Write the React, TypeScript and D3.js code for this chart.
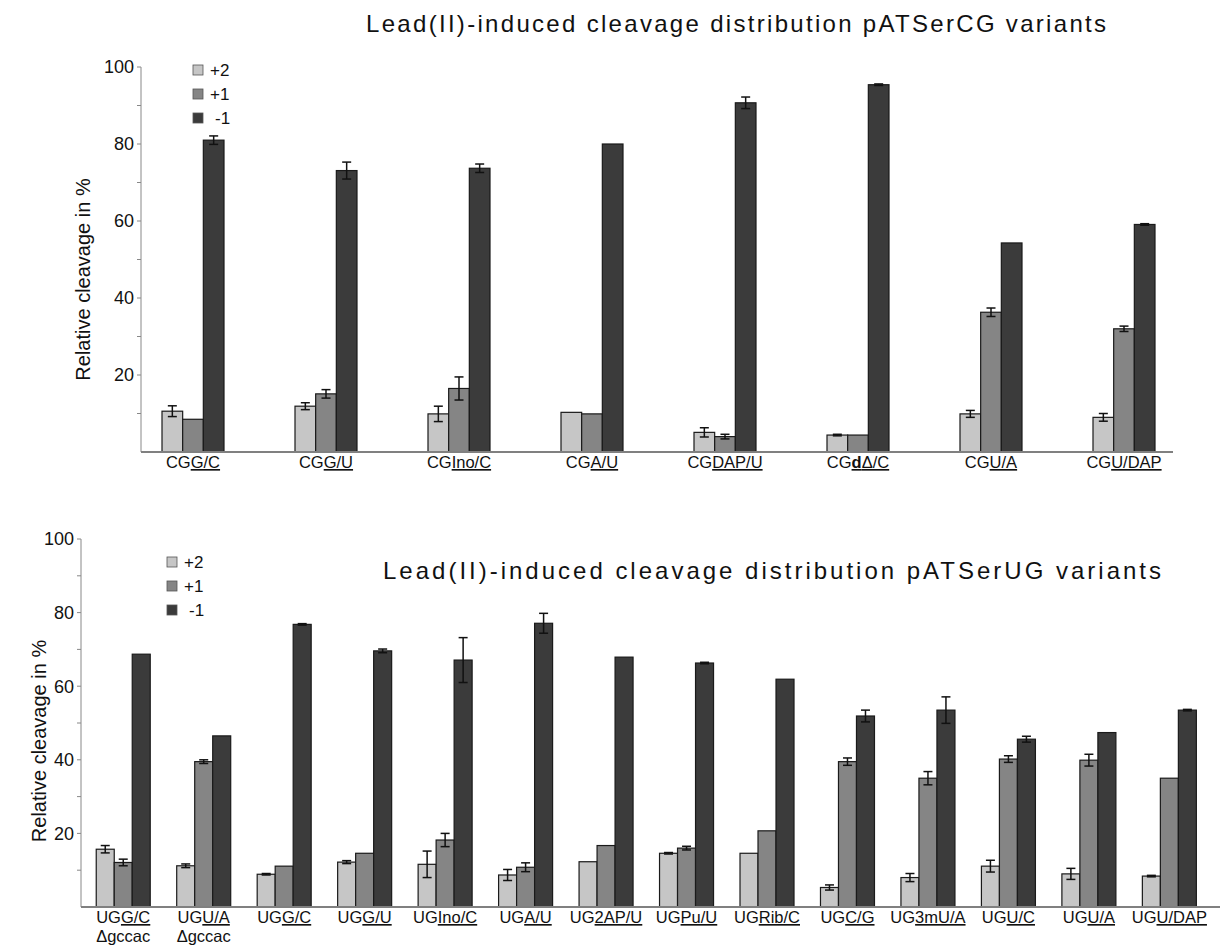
import React from 'react';
import * as d3 from 'd3';

// pATSerCG variants (top panel)
const cgCategories = ['CGG/C', 'CGG/U', 'CGIno/C', 'CGA/U', 'CGDAP/U', 'CGdΔ/C', 'CGU/A', 'CGU/DAP'];
const cgPlus2 = [10.6, 11.9, 9.9, 10.3, 5.1, 4.4, 9.9, 9.0];
const cgPlus2Err = [1.4, 0.9, 2.0, 0, 1.2, 0.2, 0.9, 1.0];
const cgPlus1 = [8.5, 15.1, 16.5, 9.9, 4.0, 4.4, 36.3, 32.0];
const cgPlus1Err = [0, 1.1, 3.0, 0, 0.6, 0, 1.1, 0.7];
const cgMinus1 = [81.0, 73.1, 73.7, 80.0, 90.7, 95.4, 54.3, 59.1];
const cgMinus1Err = [1.1, 2.2, 1.1, 0, 1.5, 0.2, 0, 0.2];

// pATSerUG variants (bottom panel)
const ugCategories = ['UGG/C Δgccac', 'UGU/A Δgccac', 'UGG/C', 'UGG/U', 'UGIno/C', 'UGA/U', 'UG2AP/U',
    'UGPu/U', 'UGRib/C', 'UGC/G', 'UG3mU/A', 'UGU/C', 'UGU/A', 'UGU/DAP'];
const ugPlus2 = [15.7, 11.2, 8.9, 12.2, 11.6, 8.7, 12.3, 14.6, 14.6, 5.3, 8.0, 11.1, 9.0, 8.4];
const ugPlus2Err = [1.0, 0.5, 0.2, 0.4, 3.6, 1.5, 0, 0.2, 0, 0.7, 1.1, 1.6, 1.5, 0.2];
const ugPlus1 = [12.1, 39.5, 11.1, 14.6, 18.2, 10.8, 16.7, 16.0, 20.7, 39.5, 35.0, 40.2, 39.9, 35.0];
const ugPlus1Err = [0.9, 0.5, 0, 0, 1.8, 1.2, 0, 0.5, 0, 1.0, 1.8, 0.9, 1.6, 0];
const ugMinus1 = [68.7, 46.5, 76.8, 69.6, 67.1, 77.1, 67.9, 66.3, 61.9, 51.9, 53.5, 45.6, 47.4, 53.5];
const ugMinus1Err = [0, 0, 0.2, 0.5, 6.1, 2.7, 0, 0.2, 0, 1.6, 3.6, 0.8, 0, 0.2];

const seriesNames = ['+2', '+1', '-1'];
const seriesColors = ['#c6c6c6', '#858585', '#3b3b3b'];
const yTickLabels = [20, 40, 60, 80, 100];

const font = '"Liberation Sans", Arial, Helvetica, sans-serif';

function CategoryLabel({ cat, x, y }) {
    const parts = cat.split(' ');
    const main = parts[0];
    const prefix = main.slice(0, 2);
    const rest = main.slice(2);
    const boldD = rest.startsWith('dΔ');
    return (
        <text x={x} y={y} textAnchor="middle" fontSize={16.5} fill="#111" fontFamily={font}>
            <tspan>{prefix}</tspan>
            {boldD ? (
                <>
                    <tspan fontWeight="bold" textDecoration="underline">d</tspan>
                    <tspan textDecoration="underline">{rest.slice(1)}</tspan>
                </>
            ) : (
                <tspan textDecoration="underline">{rest}</tspan>
            )}
            {parts[1] && <tspan x={x} dy={19}>{parts[1]}</tspan>}
        </text>
    );
}

function Panel({ title, titleX, titleY, titleWidth, categories, values, errors, axisX, axisEnd, y0, y100,
    bandStart, bandEnd, groupWidth, legendX, legendY, ylabelX, ylabelShift }) {

    const y = d3.scaleLinear().domain([0, 100]).range([y0, y100]);
    const x = d3.scaleBand().domain(categories).range([bandStart, bandEnd]);
    const inner = d3.scaleBand().domain(seriesNames).range([0, groupWidth]);
    const offset = (x.bandwidth() - groupWidth) / 2;
    const minorTicks = d3.range(10, 101, 10);

    return (
        <g>
            <text x={titleX} y={titleY} fontSize={24} fontFamily={font} fill="#111"
                textLength={titleWidth} lengthAdjust="spacing">{title}</text>

            {/* y axis */}
            <line x1={axisX} x2={axisX} y1={y(100)} y2={y(0)} stroke="#888" strokeWidth={1} />
            {minorTicks.map(t => (
                <line key={t} x1={axisX - 4} x2={axisX} y1={y(t)} y2={y(t)} stroke="#888" strokeWidth={1} />
            ))}
            {yTickLabels.map(t => (
                <text key={t} x={axisX - 7} y={y(t)} dy="0.35em" textAnchor="end" fontSize={18}
                    fontFamily={font} fill="#111">{t}</text>
            ))}
            <text transform={`translate(${ylabelX},${(y(0) + y(100)) / 2 + ylabelShift}) rotate(-90)`}
                textAnchor="middle" fontSize={20} fontFamily={font} fill="#111">Relative cleavage in %</text>

            {/* bars */}
            {categories.map((c, i) => (
                <g key={c} transform={`translate(${x(c) + offset},0)`}>
                    {seriesNames.map((s, k) => (
                        <rect key={s} x={inner(s)} y={y(values[k][i])} width={inner.bandwidth()}
                            height={y(0) - y(values[k][i])} fill={seriesColors[k]}
                            stroke="#1a1a1a" strokeWidth={1.2} />
                    ))}
                    {seriesNames.map((s, k) => {
                        const e = errors[k][i];
                        if (!e) return null;
                        const cx = inner(s) + inner.bandwidth() / 2;
                        const v = values[k][i];
                        return (
                            <g key={s} stroke="#111" strokeWidth={1.5}>
                                <line x1={cx} x2={cx} y1={y(v + e)} y2={y(v - e)} />
                                <line x1={cx - 4.5} x2={cx + 4.5} y1={y(v + e)} y2={y(v + e)} />
                                <line x1={cx - 4.5} x2={cx + 4.5} y1={y(v - e)} y2={y(v - e)} />
                            </g>
                        );
                    })}
                </g>
            ))}

            {/* x axis */}
            <line x1={axisX} x2={axisEnd} y1={y(0)} y2={y(0)} stroke="#808080" strokeWidth={2} />
            {categories.map(c => (
                <CategoryLabel key={c} cat={c} x={x(c) + x.bandwidth() / 2} y={y(0) + 16} />
            ))}

            {/* legend */}
            {seriesNames.map((s, k) => (
                <g key={s} transform={`translate(${legendX},${legendY + k * 24})`}>
                    <rect x={0} y={-5} width={10} height={10} fill={seriesColors[k]} stroke="#555" strokeWidth={0.8} />
                    <text x={s === '-1' ? 22 : 17} y={0} dy="0.35em" fontSize={17} fontFamily={font} fill="#111">{s}</text>
                </g>
            ))}
        </g>
    );
}

export default function App() {
    return (
        <svg width={1224} height={945} style={{ position: 'absolute', left: 0, top: 0, background: '#fff' }}>
            <Panel
                title="Lead(II)-induced cleavage distribution pATSerCG variants"
                titleX={366} titleY={32} titleWidth={740}
                categories={cgCategories}
                values={[cgPlus2, cgPlus1, cgMinus1]}
                errors={[cgPlus2Err, cgPlus1Err, cgMinus1Err]}
                axisX={141} axisEnd={1173} y0={452} y100={67}
                bandStart={126.5} bandEnd={1190.5} groupWidth={62}
                legendX={193} legendY={70} ylabelX={90} ylabelShift={20}
            />
            <Panel
                title="Lead(II)-induced cleavage distribution pATSerUG variants"
                titleX={383} titleY={579} titleWidth={778}
                categories={ugCategories}
                values={[ugPlus2, ugPlus1, ugMinus1]}
                errors={[ugPlus2Err, ugPlus1Err, ugMinus1Err]}
                axisX={81} axisEnd={1220} y0={907} y100={539}
                bandStart={83} bandEnd={1209.6} groupWidth={54}
                legendX={167} legendY={562} ylabelX={46} ylabelShift={18}
            />
        </svg>
    );
}
